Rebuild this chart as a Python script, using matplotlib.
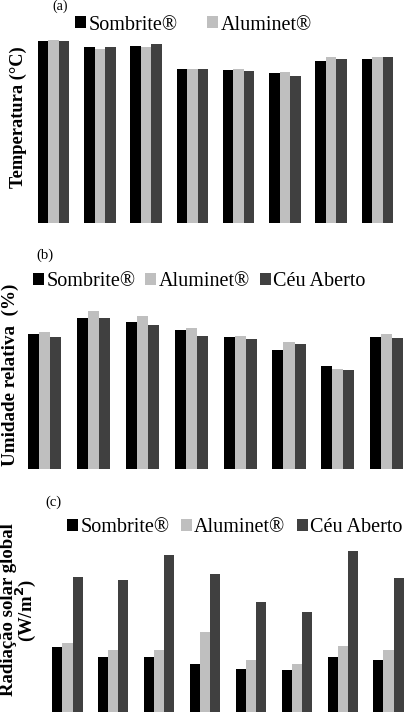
import numpy as np
import matplotlib
matplotlib.use("Agg")
import matplotlib.pyplot as plt
from matplotlib.patches import Patch

plt.rcParams['font.family'] = ['Liberation Serif', 'DejaVu Serif']

series = ["Sombrite®", "Aluminet®", "Céu Aberto"]
colors = ["#000000", "#bfbfbf", "#404040"]

# (a) temperatura (°C) - 8 periodos
temp_sombrite = [30.7, 29.7, 30.0, 26.0, 25.8, 25.3, 27.4, 27.8]
temp_aluminet = [31.0, 29.4, 29.8, 26.0, 26.1, 25.6, 28.1, 28.1]
temp_ceu = [30.8, 29.8, 30.2, 26.0, 25.7, 24.9, 27.8, 28.0]

# (b) umidade relativa (%)
ur_sombrite = [68.3, 76.3, 74.1, 70.1, 66.8, 60.1, 51.8, 66.8]
ur_aluminet = [69.2, 80.0, 77.3, 71.1, 67.2, 64.1, 50.3, 68.2]
ur_ceu = [66.8, 76.3, 72.6, 67.2, 65.7, 63.1, 50.0, 66.0]

# (c) radiacao solar global (W/m2)
rad_sombrite = [323, 275, 275, 239, 213, 209, 275, 260]
rad_aluminet = [345, 308, 308, 397, 259, 239, 330, 308]
rad_ceu = [671, 655, 779, 683, 545, 497, 800, 663]

W, H = 412, 728
fig = plt.figure(figsize=(W / 100, H / 100), dpi=100)


def px_axes(left, top, width, bottom):
    return fig.add_axes([left / W, 1 - bottom / H, width / W, (bottom - top) / H])


def draw_bars(ax, data, ymax, bw):
    x = np.arange(len(data[0]))
    for k, (vals, c) in enumerate(zip(data, colors)):
        ax.bar(x + (k - 1) * bw, vals, bw, color=c, linewidth=0)
    ax.set_xlim(-0.5, len(x) - 0.5)
    ax.set_ylim(0, ymax)
    ax.axis('off')


def legend(ax, n, x, y, spacing):
    handles = [Patch(facecolor=colors[i], edgecolor='none') for i in range(n)]
    ax.legend(handles, series[:n], loc='center left', bbox_to_anchor=(x / W, 1 - y / H),
              bbox_transform=fig.transFigure, ncol=n, frameon=False, fontsize=14.5,
              borderpad=0, borderaxespad=0, handlelength=0.55, handleheight=0.55,
              handletextpad=0.12, columnspacing=spacing)


# panel (a)
pitch = 46.26
ax1 = px_axes(53.5 - pitch / 2, 35, 8 * pitch, 223)
draw_bars(ax1, [temp_sombrite, temp_aluminet, temp_ceu], 188 * 0.16912, 0.227)
legend(ax1, 2, 75, 25, 1.45)
fig.text(60 / W, 1 - 6 / H, "(a)", fontsize=10, ha='center', va='center')
fig.text(18.5 / W, 1 - 117 / H, "Temperatura (°C)", fontsize=13.2, fontweight='bold',
         rotation=90, ha='center', va='center')

# panel (b)
pitch = 48.9
ax2 = px_axes(44.5 - pitch / 2, 300, 8 * pitch, 468.7)
draw_bars(ax2, [ur_sombrite, ur_aluminet, ur_ceu], 168.7 * 0.506, 0.225)
legend(ax2, 3, 33, 282, 0.48)
fig.text(44.5 / W, 1 - 255 / H, "(b)", fontsize=10.5, ha='center', va='center')
fig.text(10 / W, 1 - 375 / H, "Umidade relativa  (%)", fontsize=13.8, fontweight='bold',
         rotation=90, ha='center', va='center')

# panel (c)
pitch = 45.86
ax3 = px_axes(67.5 - pitch / 2, 540, 8 * pitch, 712.3)
draw_bars(ax3, [rad_sombrite, rad_aluminet, rad_ceu], 172.3 * 4.95, 0.22)
legend(ax3, 3, 67, 528, 0.55)
fig.text(53.5 / W, 1 - 502 / H, "(c)", fontsize=10.5, ha='center', va='center')
fig.text(19 / W, 1 - 610 / H, "Radiação solar global\n(W/m$^\\mathbf{2}$)", fontsize=13.5,
         fontweight='bold', rotation=90, ha='center', va='center', linespacing=0.85,
         multialignment='center')

fig.savefig("out.png", dpi=100)
